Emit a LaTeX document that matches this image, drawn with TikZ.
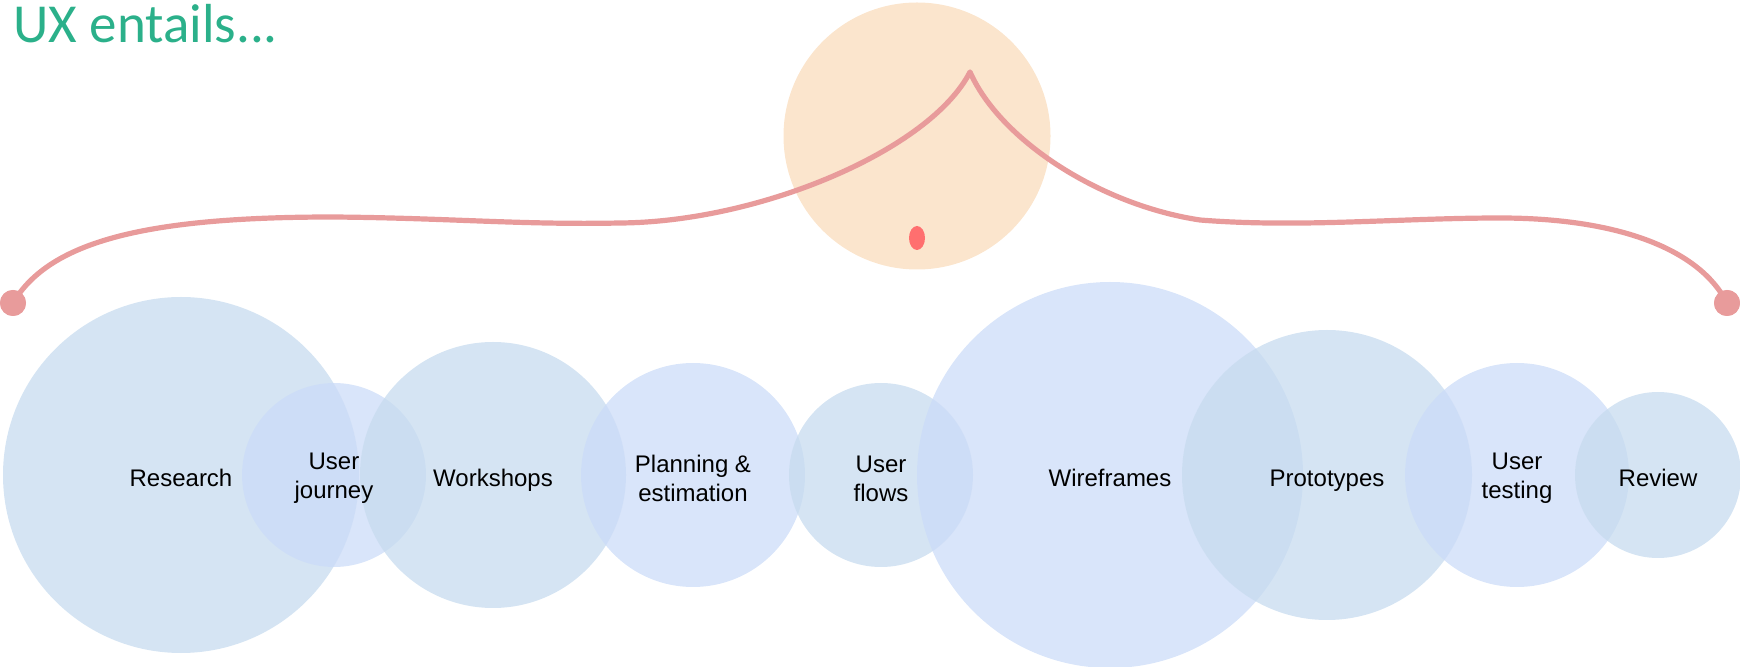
\documentclass[tikz,border=0pt]{standalone}
\usepackage{fontspec}
\usetikzlibrary{shapes.geometric}
\setmainfont{Liberation Sans}
\newfontfamily\titlefont{Carlito}
\definecolor{bubA}{HTML}{C7DBEF}
\definecolor{bubB}{HTML}{CCDCF8}
\definecolor{peach}{HTML}{FBE5CD}
\definecolor{bracecol}{HTML}{E89B9B}
\definecolor{dropcol}{HTML}{FF6F6F}
\definecolor{titlecol}{HTML}{2BB08A}
\begin{document}
\begin{tikzpicture}[x=0.5pt,y=-0.5pt,
  bubbleA/.style={circle, fill=bubA, fill opacity=0.75, inner sep=0pt, outer sep=0pt},
  bubbleB/.style={circle, fill=bubB, fill opacity=0.75, inner sep=0pt, outer sep=0pt},
  lbl/.style={font=\fontsize{12}{14.5}\selectfont, align=center, text=black, inner sep=0pt},
  lblone/.style={lbl, anchor=base},
  dotnode/.style={circle, fill=bracecol, inner sep=0pt, outer sep=0pt, minimum size=13pt},
  bracepath/.style={draw=bracecol, line width=2.6pt, line join=round}]
\useasboundingbox (0,0) rectangle (1740,667);
% title
\node[anchor=base west, text=titlecol, font=\titlefont\fontsize{27.5}{30}\selectfont, inner sep=0pt] (title) at (13,43) {UX entails...};
% top circle
\node[circle, fill=peach, inner sep=0pt, minimum size=133.5pt] (top) at (917,136) {};
\node[ellipse, fill=dropcol, inner sep=0pt, minimum width=8pt, minimum height=12pt] (drop) at (917,238) {};
% bubbles
\node[bubbleA, minimum size=178pt] (research) at (181,475) {};
\node[bubbleB, minimum size=92pt] (journey) at (334,475) {};
\node[bubbleA, minimum size=133pt] (workshops) at (493,475) {};
\node[bubbleB, minimum size=112pt] (planning) at (693,475) {};
\node[bubbleA, minimum size=92pt] (flows) at (881,475) {};
\node[bubbleB, minimum size=193pt] (wireframes) at (1110,475) {};
\node[bubbleA, minimum size=145pt] (prototypes) at (1327,475) {};
\node[bubbleB, minimum size=112pt] (testing) at (1517,475) {};
\node[bubbleA, minimum size=83pt] (review) at (1658,475) {};
% labels
\node[lblone] at ([yshift=-5.6pt]research.center) {Research};
\node[lbl] at ([yshift=-1.7pt]journey.center) {User\\journey};
\node[lblone] at ([yshift=-5.6pt]workshops.center) {Workshops};
\node[lbl] at ([yshift=-1.7pt]planning.center) {Planning \&\\estimation};
\node[lbl] at ([yshift=-1.7pt]flows.center) {User\\flows};
\node[lblone] at ([yshift=-5.6pt]wireframes.center) {Wireframes};
\node[lblone] at ([yshift=-5.6pt]prototypes.center) {Prototypes};
\node[lbl] at ([yshift=-1.7pt]testing.center) {User\\testing};
\node[lblone] at ([yshift=-5.6pt]review.center) {Review};
% brace
\coordinate (peak) at (970,72);
\node[dotnode] (ldot) at (13,303) {};
\node[dotnode] (rdot) at (1727,303) {};
\draw[bracepath] (ldot.center) .. controls (50,240) and (150,217) .. (333,217)
  .. controls (450,218) and (520,225) .. (620,223)
  .. controls (760,222) and (930,150) .. (peak)
  .. controls (1000,140) and (1100,205) .. (1200,220)
  .. controls (1300,228) and (1400,218) .. (1500,218)
  .. controls (1620,218) and (1700,250) .. (rdot.center);
\node[dotnode] at (ldot) {};
\node[dotnode] at (rdot) {};
\end{tikzpicture}
\end{document}
